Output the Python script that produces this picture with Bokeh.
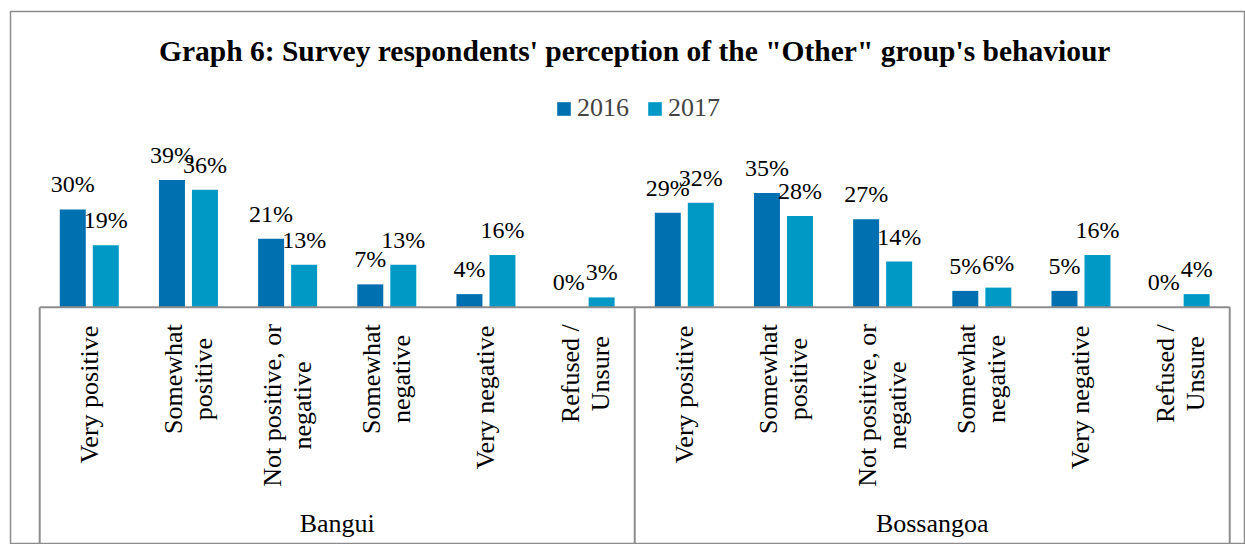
import numpy as np
from bokeh.plotting import figure
from bokeh.models import Range1d, Legend, LegendItem, Label, ColumnDataSource
from bokeh.core.properties import value
from bokeh.embed import file_html
from bokeh.resources import INLINE

# ---------------- data ----------------
title_text = "Graph 6: Survey respondents' perception of the \"Other\" group's behaviour"
groups = ["Bangui", "Bossangoa"]
categories = ["Very positive", "Somewhat\npositive", "Not positive, or\nnegative",
              "Somewhat\nnegative", "Very negative", "Refused /\nUnsure"]
series_names = ["2016", "2017"]
bangui_2016 = [30, 39, 21, 7, 4, 0]
bangui_2017 = [19, 36, 13, 13, 16, 3]
bossangoa_2016 = [29, 35, 27, 5, 5, 0]
bossangoa_2017 = [32, 28, 14, 6, 16, 4]

# ---------------- styling ----------------
C2016 = "#0070B0"
C2017 = "#0099C6"
AXIS_C = "#8C8C8C"
FONT = "Liberation Serif"
CAT_FS = 26          # px, category label font size
LINE_PITCH = 30      # px between lines of a rotated label
LABEL_GAP = 17       # px between baseline and top of rotated labels

# approximate Times/Liberation Serif advance widths (per 1000 em) for label layout
_W = {"V": 722, "e": 444, "r": 333, "y": 500, " ": 250, "p": 500, "o": 500, "s": 389,
      "i": 278, "t": 278, "v": 500, "S": 556, "m": 778, "w": 722, "h": 500, "a": 444,
      "N": 722, ",": 250, "n": 500, "g": 500, "R": 667, "f": 333, "u": 500, "d": 500,
      "/": 278, "U": 722}


def text_w(s, fs):
    return sum(_W.get(c, 500) for c in s) * fs / 1000.0


n_cat = len(categories)
n_all = n_cat * len(groups)
idx = np.arange(n_all) + 0.5
vals16 = bangui_2016 + bossangoa_2016
vals17 = bangui_2017 + bossangoa_2017
OFF = 0.1664
BW = 0.262
Y0, Y1 = -72.8, 90.7

src16 = ColumnDataSource(dict(x=idx - OFF, top=vals16, lab=[f"{v}%" for v in vals16]))
src17 = ColumnDataSource(dict(x=idx + OFF, top=vals17, lab=[f"{v}%" for v in vals17]))

# category labels: one entry per text line, centred within the rotated block
lx, lt, lxo, lyo = [], [], [], []
for g in range(len(groups)):
    for c, cat in enumerate(categories):
        lines = cat.split("\n")
        maxw = max(text_w(s, CAT_FS) for s in lines)
        for k, s in enumerate(lines):
            lx.append(g * n_cat + c + 0.5)
            lt.append(s)
            lxo.append((k - (len(lines) - 1) / 2) * LINE_PITCH)
            lyo.append(LABEL_GAP + maxw / 2)
cat_src = ColumnDataSource(dict(x=lx, y=[0] * len(lx), t=lt, xo=lxo, yo=lyo))
grp_src = ColumnDataSource(dict(x=[n_cat * (g + 0.5) for g in range(len(groups))],
                                y=[0] * len(groups), t=groups))

p = figure(width=1245, height=544, output_backend="svg", toolbar_location=None,
           x_range=Range1d(-0.2944, 12.159), y_range=Range1d(Y0, Y1),
           x_axis_location=None, y_axis_location=None,
           min_border_left=10, min_border_top=11, min_border_right=0, min_border_bottom=0)
p.grid.visible = False
p.outline_line_color = AXIS_C
p.outline_line_width = 1.5
p.background_fill_color = "white"
p.border_fill_color = "white"

r16 = p.vbar(x="x", top="top", width=BW, bottom=0, source=src16, fill_color=C2016, line_color=None)
r17 = p.vbar(x="x", top="top", width=BW, bottom=0, source=src17, fill_color=C2017, line_color=None)

# data labels
for s in (src16, src17):
    p.text(x="x", y="top", text="lab", source=s, text_font=value(FONT), text_font_size="24px",
           text_align="center", text_baseline="alphabetic", y_offset=-25, text_color="black")

# axis lines (baseline + group separators)
edges = [g * n_cat for g in range(len(groups) + 1)]
p.segment(x0=[0], y0=[0], x1=[n_all], y1=[0], line_color=AXIS_C, line_width=2)
p.segment(x0=edges, y0=[0] * len(edges), x1=edges, y1=[Y0] * len(edges),
          line_color=AXIS_C, line_width=2)

# category labels (rotated)
p.text(x="x", y="y", text="t", source=cat_src, angle=np.pi / 2, x_offset="xo", y_offset="yo",
       text_align="center", text_baseline="middle", text_font=value(FONT),
       text_font_size=f"{CAT_FS}px", text_color="black")

# group labels
p.text(x="x", y="y", text="t", source=grp_src, y_offset=216, text_align="center",
       text_baseline="alphabetic", text_font=value(FONT), text_font_size="26px",
       text_color="black")

# title
p.add_layout(Label(x=n_all / 2, y=78.5, text=title_text, text_font=FONT, text_font_style="bold",
                   text_font_size="29.5px", text_align="center", text_baseline="alphabetic",
                   text_color="black"))

legend = Legend(items=[LegendItem(label=series_names[0], renderers=[r16]),
                       LegendItem(label=series_names[1], renderers=[r17])],
                orientation="horizontal", location=(545, 421), padding=0, spacing=17,
                label_standoff=5, glyph_width=17, glyph_height=17,
                label_text_font=FONT, label_text_font_size="26px",
                border_line_color=None, background_fill_alpha=0)
p.add_layout(legend, "center")

open("out.html", "w").write(file_html(p, INLINE))
